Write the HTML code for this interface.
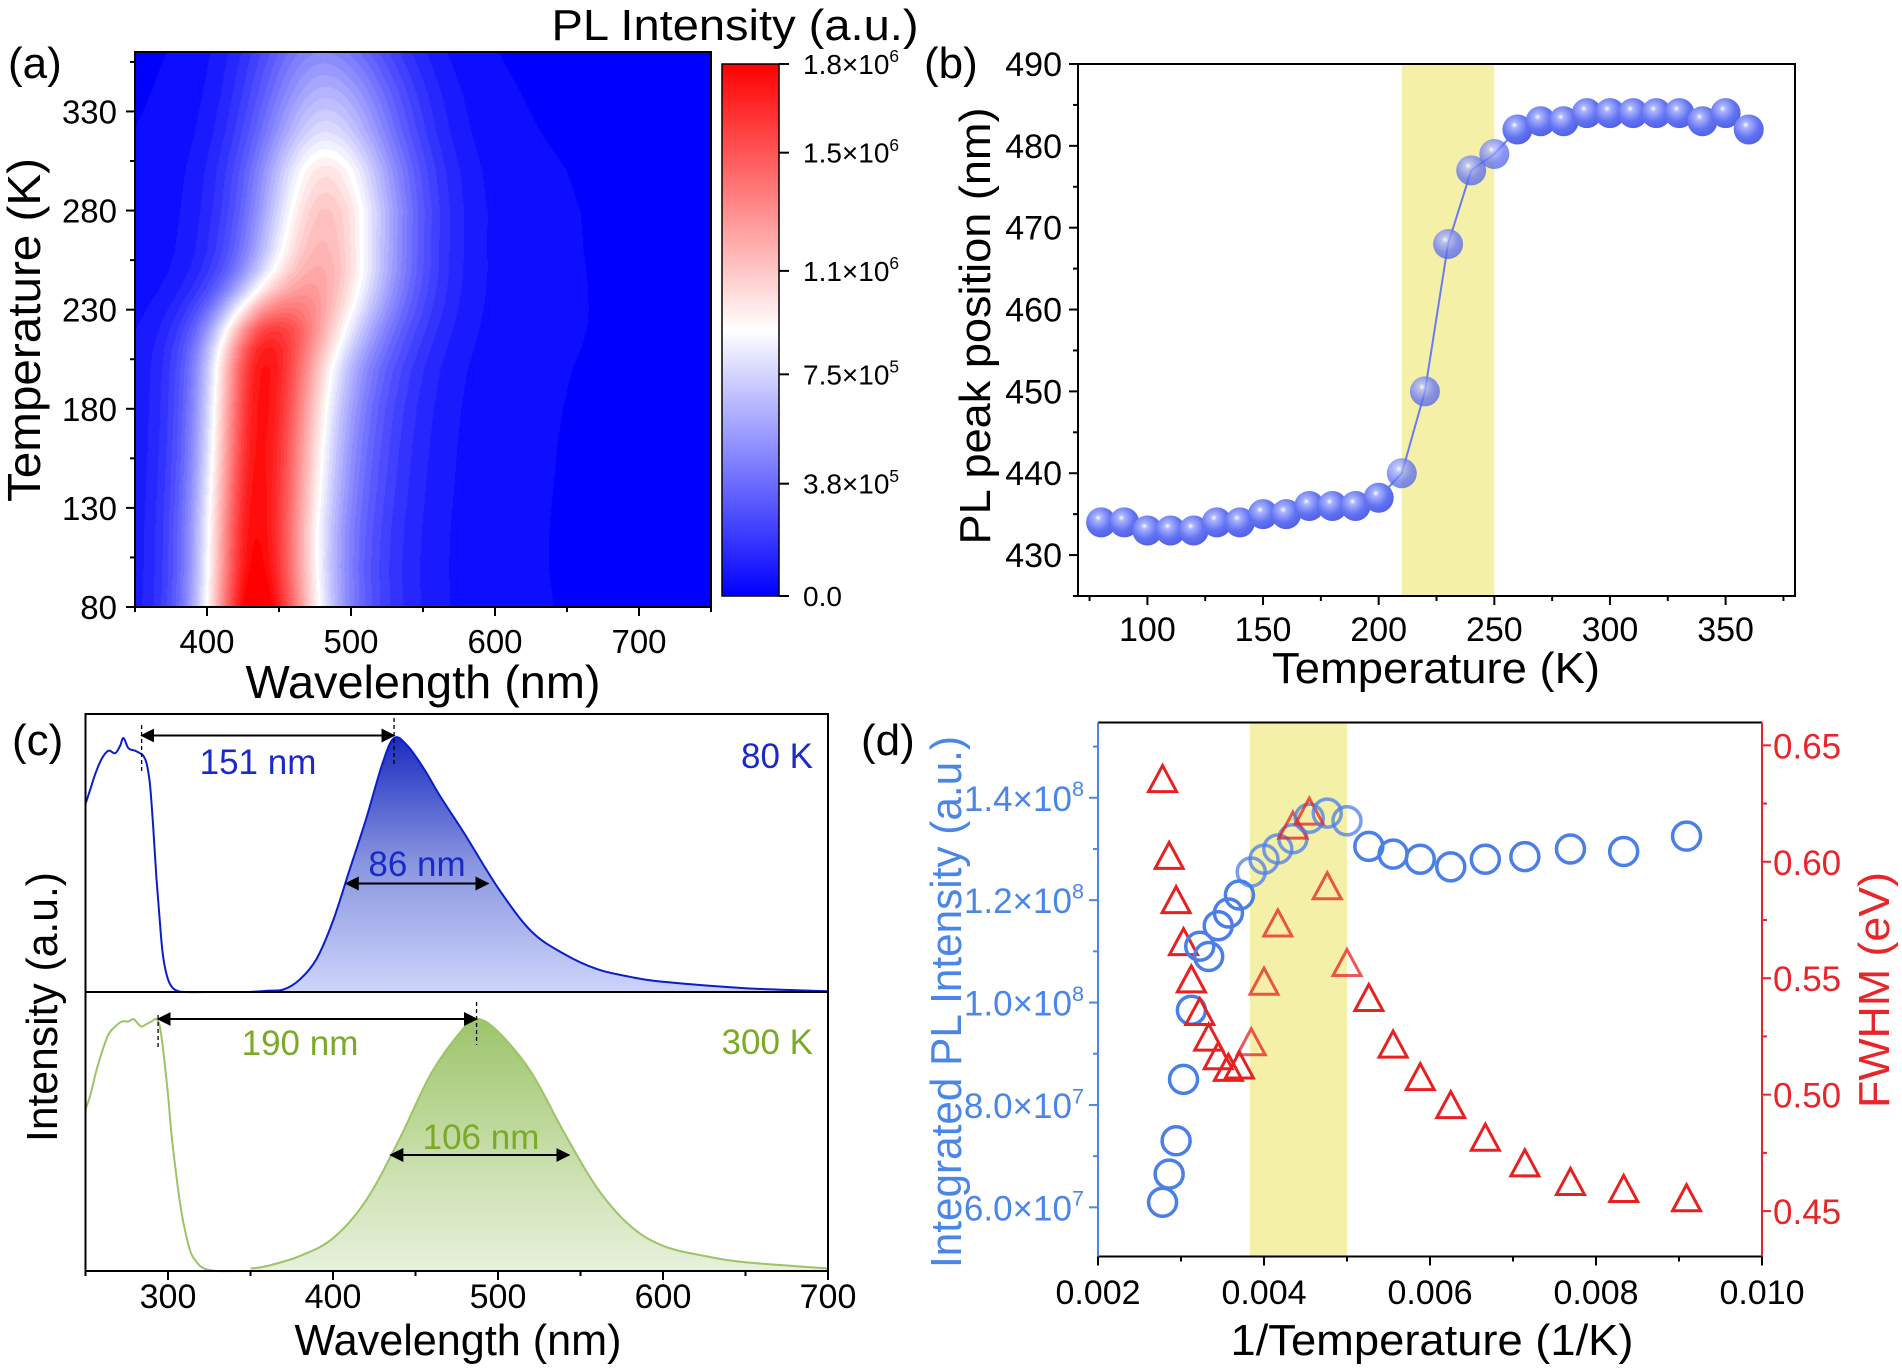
<!DOCTYPE html>
<html><head><meta charset="utf-8">
<style>
html,body{margin:0;padding:0;background:#fff;}
#wrap{position:relative;width:1902px;height:1369px;overflow:hidden;}
#hm{position:absolute;left:135px;top:52px;}
svg{position:absolute;left:0;top:0;}
text{font-family:"Liberation Sans",Arial,sans-serif;}
</style></head>
<body>
<div id="wrap">
<canvas id="hm" width="576" height="555"></canvas>
<svg id="svg" width="1902" height="1369" xmlns="http://www.w3.org/2000/svg">
<defs>
<linearGradient id="cbar" x1="0" y1="1" x2="0" y2="0">
<stop offset="0" stop-color="#0000ff"/><stop offset="0.5" stop-color="#ffffff"/><stop offset="1" stop-color="#ff0000"/>
</linearGradient>
<linearGradient id="blueFill" x1="0" y1="0" x2="0" y2="1">
<stop offset="0" stop-color="#1a2cc0"/><stop offset="0.5" stop-color="#8a96e0"/><stop offset="1" stop-color="#cdd4fa"/>
</linearGradient>
<linearGradient id="greenFill" x1="0" y1="0" x2="0" y2="1">
<stop offset="0" stop-color="#9cc46a"/><stop offset="0.5" stop-color="#c4dca4"/><stop offset="1" stop-color="#e8f0dc"/>
</linearGradient>
<radialGradient id="ball" cx="0.4" cy="0.35" r="0.7">
<stop offset="0" stop-color="#ffffff"/><stop offset="0.15" stop-color="#aab4ff"/><stop offset="0.6" stop-color="#6273f2"/><stop offset="1" stop-color="#4e5ee8"/>
</radialGradient>
<marker id="ah" viewBox="0 0 10 10" refX="9" refY="5" markerWidth="7" markerHeight="7" orient="auto-start-reverse"><path d="M0,0 L10,5 L0,10 z" fill="#000"/></marker>
</defs>
</svg>
</div>
<script>
// ---------- DATA ----------
// (a) heatmap model parameters per temperature
const hmTemps = [80,100,120,140,160,180,200,210,220,230,240,250,260,280,300,320,340,360];
const hmAmp1  = [1.8,1.72,1.68,1.65,1.62,1.6,1.55,1.45,1.25,0.9,0.55,0.3,0.18,0.1,0.08,0.06,0.05,0.04];
const hmAmp2  = [0.2,0.2,0.22,0.25,0.28,0.32,0.4,0.5,0.62,0.78,0.92,1.02,1.05,1.05,0.95,0.75,0.6,0.45];
const hmPos1  = [433,433,433,434,435,436,437,438,440,442,445,448,450,450,450,450,450,450];
const hmPos2  = [483,483,483,483,483,483,483,483,483,483,483,483,483,484,484,484,484,482];
const cbTicks = [0,0.38,0.75,1.1,1.5,1.8];
const cbLabels = [["0.0",""],["3.8×10","5"],["7.5×10","5"],["1.1×10","6"],["1.5×10","6"],["1.8×10","6"]];
// (b) PL peak position
const bTemps = [80,90,100,110,120,130,140,150,160,170,180,190,200,210,220,230,240,250,260,270,280,290,300,310,320,330,340,350,360];
const bPeak  = [434,434,433,433,433,434,434,435,435,436,436,436,437,440,450,468,477,479,482,483,483,484,484,484,484,484,483,484,482];
// (c) spectra
const ex80Wl  = [250,253,256,260,264,268,271,273,276,280,283,285,287,289,291,293,295,297,300,303,306,310,330,350];
const ex80I   = [0.74,0.8,0.86,0.92,0.95,0.94,0.97,1.0,0.96,0.95,0.94,0.93,0.9,0.82,0.65,0.45,0.28,0.14,0.05,0.015,0.004,0,0,0];
const pl80Wl  = [350,360,370,380,390,400,410,420,430,437,445,455,465,480,500,520,540,560,580,600,650,700];
const pl80I   = [0,0.005,0.01,0.05,0.13,0.28,0.48,0.68,0.9,1.0,0.97,0.88,0.77,0.62,0.41,0.24,0.15,0.09,0.06,0.04,0.015,0.003];
const ex300Wl = [250,253,256,260,264,268,272,276,279,282,284,287,290,293,295,297,300,302,305,308,311,314,318,322,330,350];
const ex300I  = [0.64,0.7,0.78,0.87,0.94,0.97,0.99,0.99,1.0,0.98,0.97,0.98,0.99,1.0,0.97,0.88,0.7,0.55,0.38,0.24,0.14,0.07,0.03,0.01,0,0];
const pl300Wl = [350,360,380,400,420,440,460,480,488,500,520,540,560,580,600,625,650,700];
const pl300I  = [0.01,0.02,0.06,0.13,0.28,0.52,0.79,0.97,1.0,0.95,0.79,0.55,0.33,0.18,0.1,0.06,0.035,0.01];
// (d) integrated intensity & FWHM vs 1/T
const dTemps = [360,350,340,330,320,310,300,290,280,270,260,250,240,230,220,210,200,190,180,170,160,150,140,130,120,110];
const dInt   = [6.1,6.65,7.3,8.5,9.85,11.1,10.9,11.5,11.75,12.1,12.55,12.8,13.0,13.2,13.6,13.7,13.55,13.05,12.9,12.8,12.65,12.8,12.85,13.0,12.95,13.25]; // x1e7
const dFwhm  = [0.634,0.601,0.582,0.564,0.548,0.534,0.523,0.515,0.510,0.511,0.521,0.547,0.572,0.614,0.620,0.588,0.555,0.540,0.520,0.506,0.494,0.480,0.469,0.461,0.458,0.454];

// ---------- helpers ----------
const NS = "http://www.w3.org/2000/svg";
const svg = document.getElementById('svg');
function mk(tag, attrs, parent){
  const e = document.createElementNS(NS, tag);
  for (const k in attrs) e.setAttribute(k, attrs[k]);
  (parent||svg).appendChild(e);
  return e;
}
function txt(str, x, y, size, opts, parent){
  opts = opts||{};
  const t = mk('text', {x:x, y:y, 'font-size':size, fill:opts.fill||'#000', 'text-anchor':opts.anchor||'start'}, parent);
  if (opts.rot) t.setAttribute('transform', 'rotate('+opts.rot+' '+x+' '+y+')');
  if (opts.len){ t.setAttribute('textLength', opts.len); t.setAttribute('lengthAdjust','spacingAndGlyphs'); }
  t.textContent = str;
  return t;
}
function supTxt(base, sup, x, y, size, opts){
  opts = opts||{};
  const t = mk('text', {x:x, y:y, 'font-size':size, fill:opts.fill||'#000', 'text-anchor':opts.anchor||'start'});
  const a = mk('tspan', {}, t); a.textContent = base;
  if (sup){ const b = mk('tspan', {dy:-size*0.42, 'font-size':size*0.62}, t); b.textContent = sup; }
  return t;
}
function lin(d0,d1,r0,r1){ return v => r0 + (v-d0)/(d1-d0)*(r1-r0); }
function line(x1,y1,x2,y2,stroke,w,parent){ return mk('line',{x1:x1,y1:y1,x2:x2,y2:y2,stroke:stroke||'#000','stroke-width':w||2},parent); }
function smooth(P){ // catmull-rom path from [[x,y],...]
  let d='M'+P[0][0].toFixed(1)+','+P[0][1].toFixed(1);
  for(let i=0;i<P.length-1;i++){
    const p0=P[Math.max(0,i-1)], p1=P[i], p2=P[i+1], p3=P[Math.min(P.length-1,i+2)];
    const c1x=p1[0]+(p2[0]-p0[0])/6, c1y=p1[1]+(p2[1]-p0[1])/6;
    const c2x=p2[0]-(p3[0]-p1[0])/6, c2y=p2[1]-(p3[1]-p1[1])/6;
    d+=' C'+c1x.toFixed(1)+','+c1y.toFixed(1)+' '+c2x.toFixed(1)+','+c2y.toFixed(1)+' '+p2[0].toFixed(1)+','+p2[1].toFixed(1);
  }
  return d;
}

// ---------- (a) heatmap ----------
const A = {x0:135,x1:711,y0:52,y1:607};
const axX = lin(350,750,A.x0,A.x1), axY = lin(80,360,A.y1,A.y0);
function interp(arr, T){
  if (T<=hmTemps[0]) return arr[0];
  for (let i=1;i<hmTemps.length;i++){ if (T<=hmTemps[i]){ const f=(T-hmTemps[i-1])/(hmTemps[i]-hmTemps[i-1]); return arr[i-1]+f*(arr[i]-arr[i-1]); } }
  return arr[arr.length-1];
}
function shape(d, w){ return 0.7*Math.exp(-4*Math.LN2*d*d/(w*w)) + 0.3/(1+4*d*d/(w*w)); }
(function(){
  const cv = document.getElementById('hm'); const ctx = cv.getContext('2d');
  const W=cv.width, H=cv.height; const img = ctx.createImageData(W,H);
  for (let py=0; py<H; py++){
    const T = 360 - py/(H-1)*280;
    const a1=interp(hmAmp1,T), a2=interp(hmAmp2,T), p1=interp(hmPos1,T), p2=interp(hmPos2,T);
    for (let px=0; px<W; px++){
      const wl = 350 + px/(W-1)*400;
      const d1 = wl-p1, d2 = wl-p2;
      let v = a1*shape(d1, d1<0?66:76) + a2*shape(d2, d2<0?85:95);
      let t = Math.min(1, Math.max(0, v/1.8));
      t = Math.round(t*40)/40;
      let r,g,b;
      if (t<0.5){ r=g=Math.round(510*t); b=255; } else { r=255; g=b=Math.round(255*(2-2*t)); }
      const i=(py*W+px)*4; img.data[i]=r; img.data[i+1]=g; img.data[i+2]=b; img.data[i+3]=255;
    }
  }
  ctx.putImageData(img,0,0);
})();
const aFrame = mk('rect',{x:A.x0,y:A.y0,width:A.x1-A.x0,height:A.y1-A.y0,fill:'none',stroke:'#000','stroke-width':2});


[350,400,450,500,550,600,650,700,750].forEach(v=>{ const maj=v%100===0; line(axX(v),A.y1,axX(v),A.y1+(maj?9:5)); if(maj){ const t=txt(String(v),axX(v),653,33,{anchor:'middle'});   } });
[80,105,130,155,180,205,230,255,280,305,330,355].forEach(v=>{ const maj=(v-80)%50===0; line(A.x0-(maj?9:5),axY(v),A.x0,axY(v)); if(maj){ const t=txt(String(v),117,axY(v)+12,33,{anchor:'end'});   } });
let tt;
tt = txt('Wavelength (nm)',423,698,46,{anchor:'middle',len:355});  
tt = txt('Temperature (K)',40,330,46,{anchor:'middle',rot:-90,len:344});  
tt = txt('(a)',8,78,44);  
// colorbar
const cbRect = mk('rect',{x:722,y:64,width:57,height:532,fill:'url(#cbar)',stroke:'#000','stroke-width':1.5});


const cbY = lin(0,1.8,596,64);
cbTicks.forEach((v,i)=>{ line(779,cbY(v),789,cbY(v)); const t=supTxt(cbLabels[i][0],cbLabels[i][1],803,cbY(v)+10,28);   });
tt = txt('PL Intensity (a.u.)',735,40,44,{anchor:'middle',len:367});  

// ---------- (b) ----------
const B = {x0:1078,x1:1795,y0:64,y1:596};
const bX = lin(70,380,B.x0,B.x1), bY = lin(425,490,B.y1,B.y0);
const bBand = mk('rect',{x:bX(210),y:B.y0,width:bX(250)-bX(210),height:B.y1-B.y0,fill:'#f4f0a8'});


const bFrame = mk('rect',{x:B.x0,y:B.y0,width:B.x1-B.x0,height:B.y1-B.y0,fill:'none',stroke:'#000','stroke-width':2});


for(let v=75; v<=375; v+=25){ const maj=v%50===0; line(bX(v),B.y1,bX(v),B.y1+(maj?9:5)); if(maj&&v>=100&&v<=350){ const t=txt(String(v),bX(v),641,34,{anchor:'middle'});   } }
for(let v=425; v<=490; v+=5){ const maj=v%10===0; line(B.x0-(maj?9:5),bY(v),B.x0,bY(v)); if(maj){ const t=txt(String(v),1062,bY(v)+12,34,{anchor:'end'});   } }
const bPath = mk('polyline',{points:bTemps.map((T,i)=>bX(T)+','+bY(bPeak[i])).join(' '),fill:'none',stroke:'#6a7cf0','stroke-width':2});


bTemps.forEach((T,i)=>{ const c=mk('circle',{cx:bX(T),cy:bY(bPeak[i]),r:15,fill:'url(#ball)'}); if(T>=210&&T<=250) c.setAttribute('opacity','0.75');
  
   });
tt = txt('Temperature (K)',1436,683,44,{anchor:'middle',len:328});  
tt = txt('PL peak position (nm)',990,326,44,{anchor:'middle',rot:-90,len:437});  
tt = txt('(b)',924,78,44);  

// ---------- (c) ----------
const C = {x0:85.5,x1:828,yt:714,ym:992,yb:1271};
const cX = lin(250,700,C.x0,C.x1);
const cYt = lin(0,1,C.ym,C.ym-254), cYb = lin(0,1,C.yb,C.yb-252);
function P(wl, I, fy){ return wl.map((w,i)=>[cX(w), fy(I[i])]); }
let p;
p = mk('path',{d:smooth(P(pl80Wl,pl80I,cYt))+' L'+cX(700)+','+C.ym+' L'+cX(350)+','+C.ym+' Z',fill:'url(#blueFill)'});
 
p = mk('path',{d:smooth(P(pl80Wl,pl80I,cYt)),fill:'none',stroke:'#0a1ec8','stroke-width':2});
 
p = mk('path',{d:smooth(P(ex80Wl,ex80I,cYt)),fill:'none',stroke:'#0a1ec8','stroke-width':2});
 
p = mk('path',{d:smooth(P(pl300Wl,pl300I,cYb))+' L'+cX(700)+','+C.yb+' L'+cX(350)+','+C.yb+' Z',fill:'url(#greenFill)'});
 
p = mk('path',{d:smooth(P(pl300Wl,pl300I,cYb)),fill:'none',stroke:'#9cc466','stroke-width':2});
 
p = mk('path',{d:smooth(P(ex300Wl,ex300I,cYb)),fill:'none',stroke:'#9cc466','stroke-width':2});
 
const cFrame = mk('rect',{x:C.x0,y:C.yt,width:C.x1-C.x0,height:C.yb-C.yt,fill:'none',stroke:'#000','stroke-width':2});
 
line(C.x0,C.ym,C.x1,C.ym,'#000',2);
for(let v=250; v<=700; v+=50){ const maj=v%100===0; line(cX(v),C.yb,cX(v),C.yb+(maj?9:5)); if(maj){ const t=txt(String(v),cX(v),1308,34,{anchor:'middle'});   } }
// annotations
function dash(x,y1,y2){ const l=line(x,y1,x,y2,'#000',1.3); l.setAttribute('stroke-dasharray','4,3'); return l; }
function arrow(xa,xb,y,name){ const l=mk('line',{x1:xa,y1:y,x2:xb,y2:y,stroke:'#000','stroke-width':2,'marker-start':'url(#ah)','marker-end':'url(#ah)'});   }
dash(cX(284),725,772); dash(cX(437),718,765); arrow(cX(284),cX(437),735.5,'c-stokes-80k-arrow');
arrow(cX(408),cX(494),883.5,'c-fwhm-80k-arrow');
dash(cX(294),1015,1047); dash(cX(487),1002,1045); arrow(cX(294),cX(487),1019,'c-stokes-300k-arrow');
arrow(cX(435),cX(543),1155,'c-fwhm-300k-arrow');
tt = txt('151 nm',258,774,35,{anchor:'middle',fill:'#1a2ac8'});  
tt = txt('86 nm',417,876,35,{anchor:'middle',fill:'#1a2ac8'});  
tt = txt('80 K',813,768,35,{anchor:'end',fill:'#1a2ac8'});  
tt = txt('190 nm',300,1055,35,{anchor:'middle',fill:'#7aaa28'});  
tt = txt('106 nm',481,1149,35,{anchor:'middle',fill:'#7aaa28'});  
tt = txt('300 K',813,1054,35,{anchor:'end',fill:'#7aaa28'});  
tt = txt('Wavelength (nm)',458,1355,44,{anchor:'middle',len:327});  
tt = txt('Intensity (a.u.)',57,1007,44,{anchor:'middle',rot:-90,len:270});  
tt = txt('(c)',12,755,44);  

// ---------- (d) ----------
const D = {x0:1098,x1:1762,y0:722.5,y1:1256.5};
const dX = lin(0.002,0.010,D.x0,D.x1), dYL = lin(5.04,15.47,D.y1,D.y0), dYR = lin(0.4305,0.6598,D.y1,D.y0);
const dBand = mk('rect',{x:dX(0.00383),y:D.y0,width:dX(0.005)-dX(0.00383),height:D.y1-D.y0,fill:'#f4f0a8'});
 
line(D.x0,D.y0,D.x1,D.y0,'#000',2); line(D.x0,D.y1,D.x1,D.y1,'#000',2);
line(D.x0,D.y0,D.x0,D.y1,'#4a86e8',2); line(D.x1,D.y0,D.x1,D.y1,'#e8262a',2);
for(let v=0.002; v<=0.01001; v+=0.001){ const maj=Math.round(v*1000)%2===0; line(dX(v),D.y1,dX(v),D.y1+(maj?9:5)); if(maj){ const t=txt(v.toFixed(3),dX(v),1304,34,{anchor:'middle'});   } }
const dLeftTicks=[6,8,10,12,14], dLeftLabels=[["6.0×10","7"],["8.0×10","7"],["1.0×10","8"],["1.2×10","8"],["1.4×10","8"]];
for(let v=6; v<=15; v+=1){ const maj=v%2===0; line(D.x0-(maj?9:5),dYL(v),D.x0,dYL(v),'#4a86e8',2); }
dLeftTicks.forEach((v,i)=>{ const t=supTxt(dLeftLabels[i][0],dLeftLabels[i][1],1084,dYL(v)+13,35,{anchor:'end',fill:'#4a86e8'});   });
const dRightTicks=[0.45,0.5,0.55,0.6,0.65];
for(let v=0.45; v<=0.6501; v+=0.025){ const maj=Math.round(v*1000)%50===0; line(D.x1,dYR(v),D.x1+(maj?9:5),dYR(v),'#e8262a',2); }
dRightTicks.forEach(v=>{ const t=txt(v.toFixed(2),1773,dYR(v)+13,35,{fill:'#e8262a'});   });
dTemps.forEach((T,i)=>{ const x=dX(1/T);
  const c=mk('circle',{cx:x,cy:dYL(dInt[i]),r:14,fill:'none',stroke:'#4a7fe8','stroke-width':3.5});
  if(1/T>=0.00383&&1/T<=0.005) c.setAttribute('stroke-opacity','0.75');
  
  
  const y=dYR(dFwhm[i]);
  const tr=mk('polygon',{points:(x)+','+(y-17)+' '+(x-14)+','+(y+9)+' '+(x+14)+','+(y+9),fill:'none',stroke:'#e82020','stroke-width':3});
  if(1/T>=0.00383&&1/T<=0.005) tr.setAttribute('stroke-opacity','0.75');
  
  
});
tt = txt('1/Temperature (1/K)',1432,1355,44,{anchor:'middle',len:403});  
tt = txt('Integrated PL Intensity (a.u.)',961,1002,44,{anchor:'middle',rot:-90,fill:'#4a86e8',len:532});  
tt = txt('FWHM (eV)',1889,990,44,{anchor:'middle',rot:-90,fill:'#e8262a',len:236});  
tt = txt('(d)',861,755,44);  
</script>
</body></html>
